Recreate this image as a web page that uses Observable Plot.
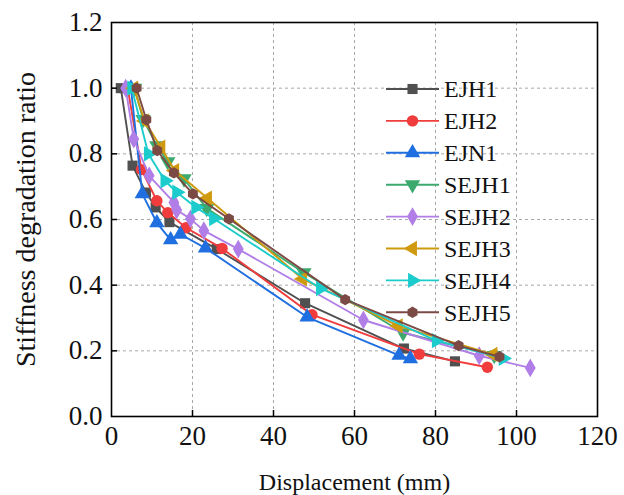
<!DOCTYPE html>
<html><head><meta charset="utf-8">
<script src="https://cdn.jsdelivr.net/npm/d3@7"></script>
<script src="https://cdn.jsdelivr.net/npm/@observablehq/plot@0.6"></script>
<style>
body{margin:0;background:#fff;}
#chart{width:624px;height:495px;}
#chart svg text{font-family:"Liberation Serif", serif !important;}
</style></head><body><div id="chart"></div>
<script>
// ---- data ----
const seriesNames = ["EJH1","EJH2","EJN1","SEJH1","SEJH2","SEJH3","SEJH4","SEJH5"];
const seriesColors = ["#505050","#f03c3c","#1f6fe0","#3caa6e","#b07ee6","#d09a0e","#1ccccc","#7b4a45"];
const seriesSymbols = ["square","circle","triangle","triDown","diamond","triLeft","triRight","hexagon"];

const EJH1_x = [2.3, 5.2, 8.5, 10.9, 14.3, 26.0, 47.8, 72.2, 84.8];
const EJH1_y = [1.0, 0.764, 0.682, 0.637, 0.592, 0.510, 0.345, 0.207, 0.168];
const EJH2_x = [4.0, 7.4, 11.2, 13.9, 18.4, 27.3, 49.5, 76.0, 92.8];
const EJH2_y = [1.0, 0.752, 0.657, 0.621, 0.575, 0.512, 0.310, 0.190, 0.150];
const EJN1_x = [4.8, 7.6, 11.2, 14.6, 17.0, 23.2, 48.3, 71.0, 73.8];
const EJN1_y = [1.0, 0.678, 0.590, 0.538, 0.555, 0.513, 0.303, 0.186, 0.176];
const SEJH1_x = [5.7, 7.8, 11.2, 13.9, 17.9, 23.5, 47.5, 72.0, 94.5];
const SEJH1_y = [1.0, 0.905, 0.825, 0.776, 0.724, 0.634, 0.438, 0.255, 0.186];
const SEJH2_x = [3.5, 5.5, 9.3, 15.4, 16.1, 19.5, 22.8, 31.3, 62.2, 90.8, 103.4];
const SEJH2_y = [1.0, 0.845, 0.733, 0.652, 0.629, 0.602, 0.566, 0.510, 0.294, 0.185, 0.148];
const SEJH3_x = [5.5, 8.2, 12.2, 15.6, 23.7, 47.2, 70.8, 94.2];
const SEJH3_y = [1.0, 0.900, 0.820, 0.749, 0.665, 0.419, 0.276, 0.189];
const SEJH4_x = [5.0, 9.1, 13.2, 16.1, 20.8, 25.2, 51.6, 80.2, 96.7];
const SEJH4_y = [1.0, 0.800, 0.718, 0.683, 0.637, 0.603, 0.390, 0.231, 0.177];
const SEJH5_x = [6.2, 8.6, 11.3, 15.4, 20.1, 29.0, 57.7, 85.7, 95.8];
const SEJH5_y = [1.0, 0.904, 0.810, 0.742, 0.678, 0.602, 0.356, 0.216, 0.182];

const xTicks = [0, 20, 40, 60, 80, 100, 120];
const yTicks = [0.0, 0.2, 0.4, 0.6, 0.8, 1.0, 1.2];
const xTitle = "Displacement (mm)";
const yTitle = "Stiffness degradation ratio";

const seriesX = [EJH1_x, EJH2_x, EJN1_x, SEJH1_x, SEJH2_x, SEJH3_x, SEJH4_x, SEJH5_x];
const seriesY = [EJH1_y, EJH2_y, EJN1_y, SEJH1_y, SEJH2_y, SEJH3_y, SEJH4_y, SEJH5_y];

// ---- symbols (shared by plot marks and legend) ----
const s3 = Math.sqrt(3);
const symbolTable = {
  square: d3.symbolSquare,
  circle: d3.symbolCircle,
  triangle: d3.symbolTriangle,
  diamond: d3.symbolDiamond,
  triDown: {draw(c, size){ const y = -Math.sqrt(size/(s3*3)); c.moveTo(0,-2*y); c.lineTo(-s3*y, y); c.lineTo(s3*y, y); c.closePath(); }},
  triLeft: {draw(c, size){ const y = -Math.sqrt(size/(s3*3)); c.moveTo(2*y,0); c.lineTo(-y,-s3*y); c.lineTo(-y, s3*y); c.closePath(); }},
  triRight: {draw(c, size){ const y = -Math.sqrt(size/(s3*3)); c.moveTo(-2*y,0); c.lineTo(y, s3*y); c.lineTo(y,-s3*y); c.closePath(); }},
  hexagon: {draw(c, size){ const rx = Math.sqrt(size/Math.PI), ry = rx*s3/2; c.moveTo(0, rx); c.lineTo(ry, rx/2); c.lineTo(ry, -rx/2); c.lineTo(0, -rx); c.lineTo(-ry, -rx/2); c.lineTo(-ry, rx/2); c.closePath(); }}
};

const W = 624, H = 495, mL = 111, mR = 27, mT = 22, mB = 79;
const plotW = W - mL - mR, plotH = H - mT - mB;
const R = 5.7;
const FONT = "Liberation Serif, serif";

const marks = [
  Plot.gridX(xTicks.slice(1, -1), {stroke: "#a8a8a8", strokeOpacity: 1, strokeDasharray: "3,3", strokeWidth: 1}),
  Plot.gridY(yTicks.slice(1, -1), {stroke: "#a8a8a8", strokeOpacity: 1, strokeDasharray: "3,3", strokeWidth: 1}),
];
seriesNames.forEach((name, i) => {
  const rows = seriesX[i].map((x, j) => ({series: name, x, y: seriesY[i][j]}));
  marks.push(Plot.line(rows, {x: "x", y: "y", stroke: seriesColors[i], strokeWidth: 1.9}));
  marks.push(Plot.dot(rows, {x: "x", y: "y", fill: seriesColors[i], stroke: "none", symbol: symbolTable[seriesSymbols[i]], r: R}));
});
marks.push(
  // inward ticks
  Plot.ruleX(xTicks.slice(1, -1), {stroke: "#000", strokeWidth: 1.5, insetTop: plotH - 6}),
  Plot.ruleY(yTicks.slice(1, -1), {stroke: "#000", strokeWidth: 1.5, insetRight: plotW - 6}),
  Plot.axisX(xTicks, {tickSize: 0, tickPadding: 9, tickFormat: d => String(d), fontSize: 27, fontFamily: FONT, label: null}),
  Plot.axisY(yTicks, {tickSize: 0, tickPadding: 9, tickFormat: d => d.toFixed(1), fontSize: 27, fontFamily: FONT, label: null}),
  Plot.frame({stroke: "#000", strokeWidth: 1.6}),
  Plot.text([xTitle], {frameAnchor: "bottom", lineAnchor: "middle", dy: 66, fontSize: 24, fontFamily: FONT, fill: "#111"}),
  Plot.text([yTitle], {frameAnchor: "left", textAnchor: "middle", lineAnchor: "middle", dx: -85, rotate: -90, fontSize: 28, fontFamily: FONT, fill: "#111"})
);

const chart = Plot.plot({
  width: W, height: H,
  marginLeft: mL, marginRight: mR, marginTop: mT, marginBottom: mB,
  x: {domain: [0, 120]},
  y: {domain: [0, 1.2]},
  style: {fontFamily: FONT, color: "#111", background: "#fff", overflow: "visible"},
  marks
});
document.getElementById("chart").appendChild(chart);

// ---- legend (inside the plot area, top right) ----
const svg = d3.select(chart);
const lg = svg.append("g").attr("transform", "translate(386,89)")
  .attr("font-family", FONT).attr("font-size", 24).attr("text-anchor", "start");
seriesNames.forEach((name, i) => {
  const g = lg.append("g").attr("transform", `translate(0,${i * 31.9})`);
  g.append("line").attr("x1", 0).attr("x2", 53).attr("y1", 0).attr("y2", 0)
    .attr("stroke", seriesColors[i]).attr("stroke-width", 1.9);
  g.append("path").attr("transform", "translate(26.5,0)")
    .attr("d", d3.symbol(symbolTable[seriesSymbols[i]], Math.PI * R * R)()).attr("fill", seriesColors[i]);
  g.append("text").attr("x", 58).attr("y", 0).attr("dy", "0.35em").attr("text-anchor", "start")
    .attr("fill", "#111").text(name);
});
</script></body></html>
